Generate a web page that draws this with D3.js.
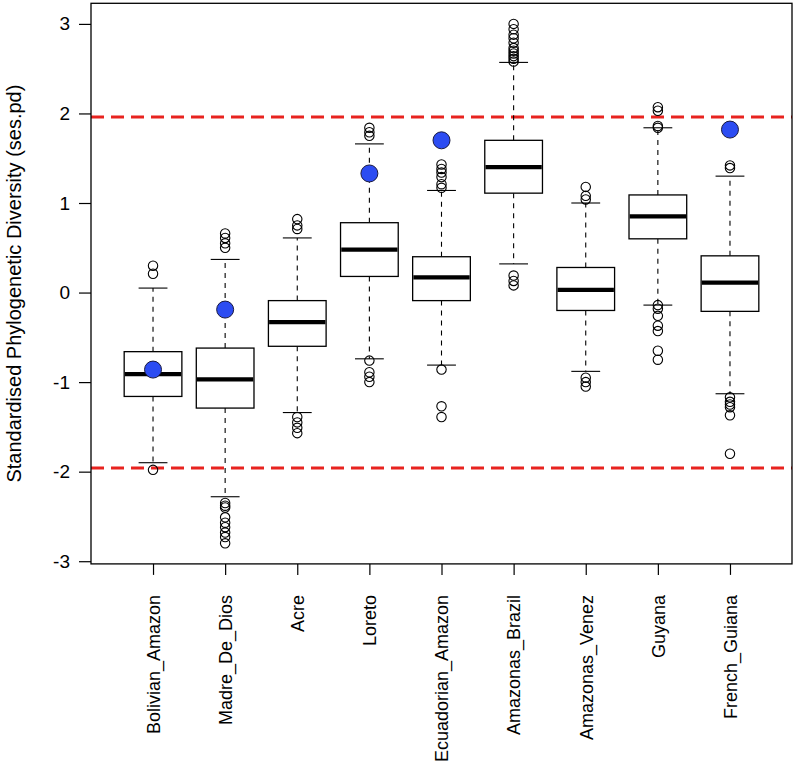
<!DOCTYPE html>
<html>
<head>
<meta charset="utf-8">
<script src="https://cdn.jsdelivr.net/npm/d3@7"></script>
<style>
  html, body { margin: 0; padding: 0; background: #fff; }
  svg { display: block; }
  text { font-family: "Liberation Sans", Arial, Helvetica, sans-serif; fill: #000; }
</style>
</head>
<body>
<svg id="chart" width="793" height="767"></svg>
<script>
const categories = ["Bolivian_Amazon", "Madre_De_Dios", "Acre", "Loreto", "Ecuadorian_Amazon",
                    "Amazonas_Brazil", "Amazonas_Venez", "Guyana", "French_Guiana"];
const whiskerLow  = [-1.90, -2.28, -1.34, -0.74, -0.81, 0.32, -0.88, -0.14, -1.13];
const q1          = [-1.16, -1.29, -0.60,  0.18, -0.09, 1.11, -0.20,  0.60, -0.21];
const medians     = [-0.91, -0.97, -0.33,  0.48,  0.17, 1.40,  0.03,  0.85,  0.11];
const q3          = [-0.66, -0.62, -0.09,  0.78,  0.40, 1.70,  0.28,  1.09,  0.41];
const whiskerHigh = [ 0.05,  0.37,  0.61,  1.66,  1.14, 2.57,  1.00,  1.84,  1.30];
const outliers = [
  [0.30, 0.21, -1.98],
  [0.66, 0.61, 0.55, 0.50, -2.35, -2.38, -2.40, -2.51, -2.57, -2.62, -2.68, -2.73, -2.80],
  [0.82, 0.75, 0.71, -1.39, -1.45, -1.51, -1.57],
  [1.84, 1.79, 1.75, -0.76, -0.89, -0.94, -1.00],
  [1.43, 1.38, 1.34, 1.29, 1.21, 1.17, -0.86, -1.27, -1.39],
  [3.00, 2.94, 2.88, 2.84, 2.79, 2.73, 2.70, 2.67, 2.64, 2.61, 2.58, 0.19, 0.13, 0.08],
  [1.18, 1.08, 1.04, -0.95, -1.00, -1.05],
  [2.07, 2.03, 1.86, 1.84, -0.14, -0.18, -0.26, -0.37, -0.43, -0.65, -0.75],
  [1.42, 1.39, -1.17, -1.22, -1.25, -1.28, -1.37, -1.80]
];
const observed = [-0.86, -0.19, null, 1.33, 1.70, null, null, null, 1.82];
const yTicks = [-3, -2, -1, 0, 1, 2, 3];
const refLines = [1.96, -1.96];
const yTitle = "Standardised Phylogenetic Diversity (ses.pd)";

const FONT = "'Liberation Sans', Arial, sans-serif";

const svg = d3.select("#chart");
const pLeft = 91, pRight = 792, pTop = 3.3, pBottom = 563.9;

const x = d3.scaleLinear().domain([0.14, 9.86]).range([pLeft, pRight]);
const y = d3.scaleLinear().domain([-3.03, 3.23]).range([pBottom, pTop]);
const unit = x(2) - x(1);
const boxW = unit * 0.8;
const capW = boxW * 0.5;

// reference lines
svg.selectAll("line.ref").data(refLines).enter().append("line")
  .attr("x1", pLeft).attr("x2", pRight)
  .attr("y1", d => y(d)).attr("y2", d => y(d))
  .attr("stroke", "#e8231f").attr("stroke-width", 3)
  .attr("stroke-dasharray", "13,7");

const g = svg.selectAll("g.box").data(categories).enter().append("g")
  .attr("class", "box");

// whiskers
g.append("line")
  .attr("x1", (d, i) => x(i + 1)).attr("x2", (d, i) => x(i + 1))
  .attr("y1", (d, i) => y(q3[i])).attr("y2", (d, i) => y(whiskerHigh[i]))
  .attr("stroke", "#000").attr("stroke-width", 1.1).attr("stroke-dasharray", "5,5");
g.append("line")
  .attr("x1", (d, i) => x(i + 1)).attr("x2", (d, i) => x(i + 1))
  .attr("y1", (d, i) => y(q1[i])).attr("y2", (d, i) => y(whiskerLow[i]))
  .attr("stroke", "#000").attr("stroke-width", 1.1).attr("stroke-dasharray", "5,5");
// caps
g.append("line")
  .attr("x1", (d, i) => x(i + 1) - capW / 2).attr("x2", (d, i) => x(i + 1) + capW / 2)
  .attr("y1", (d, i) => y(whiskerHigh[i])).attr("y2", (d, i) => y(whiskerHigh[i]))
  .attr("stroke", "#000").attr("stroke-width", 1.1);
g.append("line")
  .attr("x1", (d, i) => x(i + 1) - capW / 2).attr("x2", (d, i) => x(i + 1) + capW / 2)
  .attr("y1", (d, i) => y(whiskerLow[i])).attr("y2", (d, i) => y(whiskerLow[i]))
  .attr("stroke", "#000").attr("stroke-width", 1.1);
// boxes
g.append("rect")
  .attr("x", (d, i) => x(i + 1) - boxW / 2)
  .attr("width", boxW)
  .attr("y", (d, i) => y(q3[i]))
  .attr("height", (d, i) => y(q1[i]) - y(q3[i]))
  .attr("fill", "#fff").attr("stroke", "#000").attr("stroke-width", 1.3);
// medians
g.append("line")
  .attr("x1", (d, i) => x(i + 1) - boxW / 2 + 0.7).attr("x2", (d, i) => x(i + 1) + boxW / 2 - 0.7)
  .attr("y1", (d, i) => y(medians[i])).attr("y2", (d, i) => y(medians[i]))
  .attr("stroke", "#000").attr("stroke-width", 4.2);
// outliers
g.each(function(d, i) {
  d3.select(this).selectAll("circle.out").data(outliers[i]).enter().append("circle")
    .attr("cx", x(i + 1)).attr("cy", v => y(v)).attr("r", 4.7)
    .attr("fill", "none").attr("stroke", "#000").attr("stroke-width", 1.1);
});
// observed values
svg.selectAll("circle.obs").data(observed.map((v, i) => ({v, i})).filter(d => d.v !== null))
  .enter().append("circle")
  .attr("cx", d => x(d.i + 1)).attr("cy", d => y(d.v)).attr("r", 8.5)
  .attr("fill", "#2c4cf2").attr("stroke", "#1a1a40").attr("stroke-width", 1);

// frame
svg.append("rect").attr("x", pLeft).attr("y", pTop)
  .attr("width", pRight - pLeft).attr("height", pBottom - pTop)
  .attr("fill", "none").attr("stroke", "#000").attr("stroke-width", 1.3);

// y axis
const yAxis = d3.axisLeft(y).tickValues(yTicks).tickSize(12).tickPadding(9)
  .tickFormat(d => String(d));
const ya = svg.append("g").attr("transform", `translate(${pLeft},0)`).call(yAxis);
ya.select(".domain").remove();
ya.selectAll(".tick line").attr("stroke", "#000").attr("stroke-width", 1.2);
ya.selectAll(".tick text").style("font-size", "19px")
  .style("font-family", FONT).attr("fill", "#000");

// x axis
const xAxis = d3.axisBottom(x).tickValues(d3.range(1, categories.length + 1))
  .tickSize(11).tickFormat(d => categories[d - 1]);
const xa = svg.append("g").attr("transform", `translate(0,${pBottom})`).call(xAxis);
xa.select(".domain").remove();
xa.selectAll(".tick line").attr("stroke", "#000").attr("stroke-width", 1.2);
xa.selectAll(".tick text")
  .style("font-size", "18px").style("font-family", FONT)
  .attr("fill", "#000")
  .attr("transform", "rotate(-90)")
  .attr("text-anchor", "end")
  .attr("x", -31).attr("y", 0).attr("dy", "0.35em");

// y title
svg.append("text")
  .attr("transform", `translate(14,${(pTop + pBottom) / 2}) rotate(-90)`)
  .attr("text-anchor", "middle").attr("dy", "0.35em")
  .style("font-size", "20px").style("font-family", FONT)
  .text(yTitle);
</script>
</body>
</html>
